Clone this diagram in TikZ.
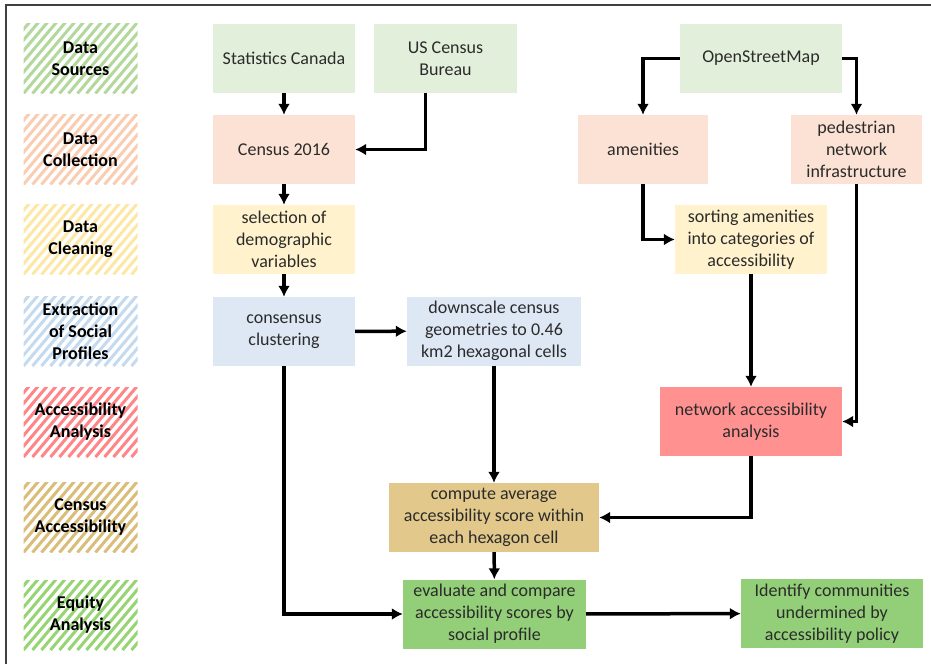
\documentclass[tikz,border=0pt]{standalone}
\usepackage{fontspec}
\setmainfont{Carlito}
\usetikzlibrary{arrows.meta}
\definecolor{txtgray}{HTML}{2B2B2B}
\definecolor{framegray}{HTML}{404040}
% hatch colours of the stage labels
\definecolor{srcgreen}{HTML}{B3D89C}
\definecolor{colsalmon}{HTML}{F8CDB2}
\definecolor{cleyellow}{HTML}{FDE7A4}
\definecolor{extblue}{HTML}{C3DAF0}
\definecolor{accred}{HTML}{FF8588}
\definecolor{cenytan}{HTML}{D9BD78}
\definecolor{equgreen}{HTML}{97D474}
% box fills
\definecolor{fillsrc}{HTML}{E2EFDA}
\definecolor{fillcol}{HTML}{FCE2D4}
\definecolor{fillcle}{HTML}{FFF2CC}
\definecolor{fillext}{HTML}{DEE8F5}
\definecolor{fillacc}{HTML}{FF9191}
\definecolor{fillcen}{HTML}{E2C98B}
\definecolor{fillequ}{HTML}{93CF78}
\tikzset{
  hatch/.style={minimum width=114pt, minimum height=70pt,
    inner sep=1pt, align=center, font=\fontsize{18}{22}\selectfont\bfseries},
  box/.style={fill=#1, minimum height=69pt, inner sep=2pt, align=center,
    text=txtgray, font=\fontsize{18}{22}\selectfont},
  arr/.style={-{Latex[length=11pt,width=12pt]}, line width=3.5pt}
}
\begin{document}
\begin{tikzpicture}[x=1pt,y=-1pt]
	\useasboundingbox (0,0) rectangle (931,664);
	\draw[framegray, line width=2pt] (6,664) -- (6,5) -- (931,5);
	% stage labels
	\foreach \y/\c/\t [count=\i] in {58.5/srcgreen/{Data\\Sources},
		149.5/colsalmon/{Data\\Collection}, 239.5/cleyellow/{Data\\Cleaning},
		331/extblue/{Extraction\\of Social\\Profiles}, 422/accred/{Accessibility\\Analysis},
		517.5/cenytan/{Census\\Accessibility}, 615/equgreen/{Equity\\Analysis}}
	{
		\begin{scope}
			\clip (23.5,\y-35) rectangle (137.5,\y+35);
			\foreach \k in {-72,-63,...,120}
			{
				\draw[\c, line width=3pt] (23.5+\k,\y+35) -- ++(64,-76);
			}
		\end{scope}
		\node[hatch] (stage\i) at (80.5,\y) {\t};
	}
	% boxes
	\node[box=fillsrc, minimum width=142pt] (statcan) at (284,58.5) {Statistics Canada};
	\node[box=fillsrc, minimum width=143pt] (uscensus) at (445.5,58.5) {US Census\\Bureau};
	\node[box=fillsrc, minimum width=162pt] (osm) at (761,58.5) {OpenStreetMap};
	\node[box=fillcol, minimum width=142pt] (census16) at (284,149.5) {Census 2016};
	\node[box=fillcol, minimum width=130pt] (amen) at (643,149.5) {amenities};
	\node[box=fillcol, minimum width=131pt] (ped) at (856.5,149.5) {pedestrian\\network\\infrastructure};
	\node[box=fillcle, minimum width=142pt] (select) at (284,239.5) {selection of\\demographic\\variables};
	\node[box=fillcle, minimum width=152pt] (sorting) at (751,239.5) {sorting amenities\\into categories of\\accessibility};
	\node[box=fillext, minimum width=142pt] (consensus) at (284,331.5) {consensus\\clustering};
	\node[box=fillext, minimum width=174pt] (downscale) at (494,331) {downscale census\\geometries to 0.46\\km2 hexagonal cells};
	\node[box=fillacc, minimum width=182pt] (network) at (751,421.5) {network accessibility\\analysis};
	\node[box=fillcen, minimum width=210pt] (compute) at (494,517.5) {compute average\\accessibility score within\\each hexagon cell};
	\node[box=fillequ, minimum width=183pt] (evaluate) at (494.5,614) {evaluate and compare\\accessibility scores by\\social profile};
	\node[box=fillequ, minimum width=182pt] (identify) at (832,613.5) {Identify communities\\undermined by\\accessibility policy};
	% connectors
	\draw[arr] (statcan) -- (census16);
	\draw[arr] ([xshift=-20pt]uscensus.south) |- (census16.east);
	\draw[arr] (census16) -- (select);
	\draw[arr] (select) -- (consensus);
	\draw[arr] (consensus) -- (downscale);
	\draw[arr] (consensus.south) |- (evaluate.west);
	\draw[arr] (downscale) -- (compute);
	\draw[arr] (compute) -- (evaluate);
	\draw[arr] (evaluate) -- (identify);
	\draw[arr] (osm.west) -| (amen.north);
	\draw[arr] (osm.east) -| (ped.north);
	\draw[arr] (amen.south) |- (sorting.west);
	\draw[arr] (sorting) -- (network);
	\draw[arr] (ped.south) |- (network.east);
	\draw[arr] (network.south) |- (compute.east);
\end{tikzpicture}
\end{document}
